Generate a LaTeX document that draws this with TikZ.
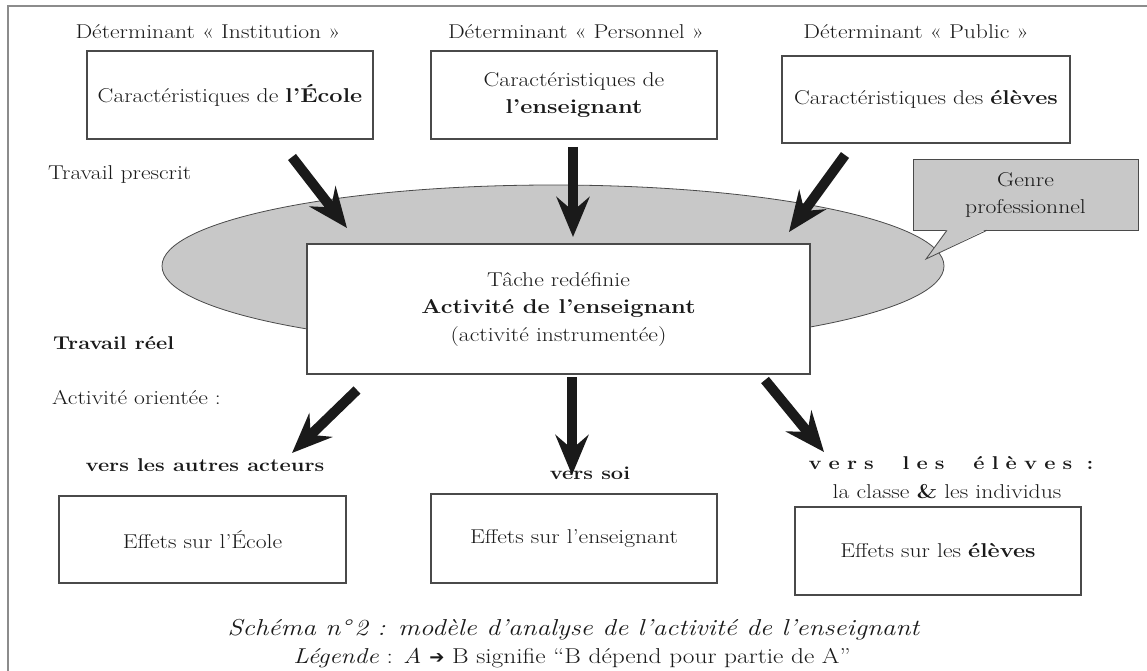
\documentclass[tikz,border=0pt]{standalone}
\usepackage{fontspec}
\setmainfont{Latin Modern Roman}[FakeStretch=1.18]
\newfontfamily\dejavu{DejaVu Sans}
\usetikzlibrary{arrows.meta,shapes.geometric}
\definecolor{boxc}{HTML}{4A4A4A}
\definecolor{ellg}{HTML}{C8C8C8}
\definecolor{arrc}{HTML}{1A1A1A}
\definecolor{framec}{HTML}{8C8C8C}
\definecolor{txtc}{HTML}{1A1A1A}
\newcommand\fsz{\fontsize{20}{27.5}\selectfont}
\newcommand\fbl{\fontsize{18.5}{24}\selectfont\bfseries}
\newcommand\ftit{\fontsize{20}{24}\selectfont}
\newcommand\capsz{\fontsize{23}{26}\selectfont}
\newcommand\capsm{\fontsize{21.5}{24}\selectfont}
\begin{document}
\begin{tikzpicture}[x=1pt,y=-1pt,
  txt/.style={inner sep=0pt, text=txtc, font=\fsz},
  boxnode/.style={draw=boxc, line width=1.1pt, fill=white, inner sep=2pt, text=txtc, font=\fsz, align=center},
  bigarrow/.style={line width=10pt, draw=arrc, -{Stealth[length=40pt,width=33pt,inset=14pt]}}]
\useasboundingbox (0,0) rectangle (1147,671);
\clip (0,0) rectangle (1147,671);
\fill[white] (0,0) rectangle (1147,671);
\draw[framec, line width=1.6pt] (8,6) rectangle (1170,700);

% titles
\node[txt, font=\ftit] (dI) at (208,32) {Déterminant « Institution »};
\node[txt, font=\ftit] (dP) at (576,32) {Déterminant « Personnel »};
\node[txt, font=\ftit] (dU) at (916,32) {Déterminant « Public »};

% top boxes
\node[boxnode, minimum width=286pt, minimum height=88pt] (cE) at (230,95) {Caractéristiques de \textbf{l’École}};
\node[boxnode, minimum width=286pt, minimum height=88pt] (cP) at (574,95) {Caractéristiques de\\\textbf{l’enseignant}};
\node[boxnode, minimum width=288pt, minimum height=87pt] (cU) at (926,99.5) {Caractéristiques des \textbf{élèves}};

\node[txt, anchor=west] (tp) at (48,175) {Travail prescrit};

% ellipse and central box
\node[ellipse, draw=boxc, line width=0.8pt, fill=ellg, minimum width=782pt, minimum height=162pt, inner sep=0pt] (ell) at (553,266) {};
\node[boxnode, minimum width=503pt, minimum height=130pt] (act) at (558.5,309) {Tâche redéfinie\\\textbf{Activité de l’enseignant}\\(activité instrumentée)};

% callout
\node[draw=boxc, line width=1pt, fill=ellg, minimum width=225pt, minimum height=70pt, inner sep=0pt, text=txtc, font=\fsz, align=center] (genre) at (1025.5,195) {Genre\\professionnel};
\coordinate (gtip) at (926,259);
\fill[ellg] (947,229) -- (gtip) -- (987,229) -- cycle;
\draw[boxc, line width=0.8pt] (947,230.3) -- (gtip) -- (987,230.3);

% arrows in
\coordinate (a1s) at (292,157); \coordinate (a1e) at (347,228);
\coordinate (a2s) at (573,147); \coordinate (a2e) at (573,237);
\coordinate (a3s) at (845,155); \coordinate (a3e) at (789,232);
\draw[bigarrow] (a1s) -- (a1e);
\draw[bigarrow] (a2s) -- (a2e);
\draw[bigarrow] (a3s) -- (a3e);

% lower labels
\node[txt, anchor=west, font=\fbl] (tr) at (53,343) {Travail réel};
\node[txt, anchor=west] (ao) at (52,398) {Activité orientée :};

% arrows out
\coordinate (a4s) at (357,390); \coordinate (a4e) at (292,453);
\coordinate (a5s) at (572,377); \coordinate (a5e) at (572,475);
\coordinate (a6s) at (765,380); \coordinate (a6e) at (824,452);
\draw[bigarrow] (a4s) -- (a4e);
\draw[bigarrow] (a5s) -- (a5e);
\draw[bigarrow] (a6s) -- (a6e);

\node[txt, font=\fbl] (va) at (205,465) {vers les autres acteurs};
\node[txt, font=\fbl] (vs) at (590,473) {vers soi};
\node[txt, font=\fbl] (ve) at (951,463) {\makebox[285pt][s]{v\hfill e\hfill r\hfill s\hfill\hfill\hfill\hfill l\hfill e\hfill s\hfill\hfill\hfill\hfill é\hfill l\hfill è\hfill v\hfill e\hfill s\hfill\hfill :}};
\node[txt] (lc) at (947,492) {la classe \textbf{\&} les individus};

% bottom boxes
\node[boxnode, minimum width=287pt, minimum height=87pt] (eE) at (202.5,539.5) {Effets sur l’École};
\node[boxnode, minimum width=286pt, minimum height=89pt] (eP) at (574,538.5) {Effets sur l’enseignant};
\node[boxnode, minimum width=286pt, minimum height=88pt] (eU) at (938,551) {Effets sur les \textbf{élèves}};

% caption
\node[txt, font=\capsz\itshape] (cap1) at (573.5,630) {Schéma n°\,2 : modèle d’analyse de l’activité de l’enseignant};
\node[txt, font=\capsm] (cap2) at (572,658) {\textit{Légende} : \textit{A} {\dejavu\fontsize{18}{18}\selectfont ➔} B signifie “B dépend pour partie de A”};
\end{tikzpicture}
\end{document}
